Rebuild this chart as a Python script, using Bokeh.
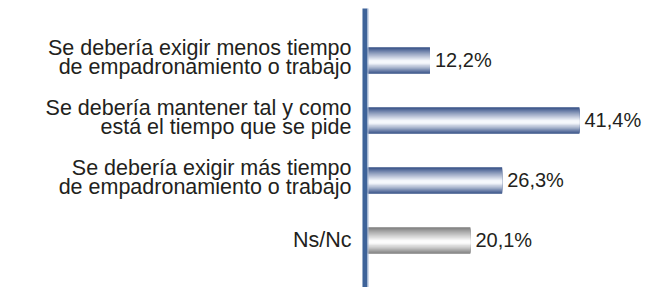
from bokeh.plotting import figure
from bokeh.models import ColumnDataSource, Range1d, BoxAnnotation
from bokeh.core.properties import value
from bokeh.embed import file_html
from bokeh.resources import INLINE

# ---- data ----
categories = [
    "Se debería exigir menos tiempo\nde empadronamiento o trabajo",
    "Se debería mantener tal y como\nestá el tiempo que se pide",
    "Se debería exigir más tiempo\nde empadronamiento o trabajo",
    "Ns/Nc",
]
values = [12.2, 41.4, 26.3, 20.1]
value_labels = ["12,2%", "41,4%", "26,3%", "20,1%"]
bar_kind = ["blue", "blue", "blue", "gray"]

# ---- styling ----
W, H = 647, 287
FONT = value("Liberation Sans")
TXT = "#231f20"
AXIS_BLUE = "#3e6399"
DARK = {"blue": (54, 80, 134), "gray": (126, 126, 126)}
LIGHT = {"blue": (246, 248, 252), "gray": (252, 252, 252)}

p = figure(width=W, height=H, output_backend="svg", toolbar_location=None,
           x_range=Range1d(-71.68, 54.69), y_range=Range1d(3.783, -1.0),
           min_border=0, min_border_left=0, min_border_right=0,
           min_border_top=0, min_border_bottom=0)
p.axis.visible = False
p.xgrid.visible = False
p.ygrid.visible = False
p.outline_line_color = None
p.background_fill_color = "white"
p.border_fill_color = "white"

ys = list(range(len(categories)))
BAR_H = 0.44
PEAK = 0.56  # fraction from top where the highlight sits
N = 14

def lerp(a, b, f):
    return "#%02x%02x%02x" % tuple(int(round(a[i] + (b[i] - a[i]) * f)) for i in range(3))

for k in range(N):
    s = k / (N - 1)
    shrink = 0.88 * s
    f = s ** 0.9
    src = dict(y=[], h=[], right=[], color=[])
    for y, v, kind in zip(ys, values, bar_kind):
        top = y - BAR_H / 2
        bot = y + BAR_H / 2
        peak = top + PEAK * BAR_H
        t2 = top + (peak - top) * shrink
        b2 = bot - (bot - peak) * shrink
        src["y"].append((t2 + b2) / 2)
        src["h"].append(b2 - t2)
        src["right"].append(v)
        src["color"].append(lerp(DARK[kind], LIGHT[kind], f))
    p.hbar(y="y", height="h", left=0, right="right", fill_color="color",
           line_color=None, source=ColumnDataSource(src))

# vertical axis line (starts a little below the top)
p.add_layout(BoxAnnotation(left=-0.98, right=0, top=-0.867, fill_color=AXIS_BLUE,
                           fill_alpha=1, line_color=None))
p.add_layout(BoxAnnotation(left=0, right=0.2, top=-0.867, fill_color="#a9bad6",
                           fill_alpha=1, line_color=None))

src = ColumnDataSource(dict(y=ys, v=values, lab=value_labels, cat=categories,
                            yoff=[-3 if "\n" in c else -1 for c in categories]))
p.text(x="v", y="y", text="lab", source=src, x_offset=5, y_offset=-1,
       text_font=FONT, text_font_size="20px", text_color=TXT,
       text_align="left", text_baseline="middle")
p.text(x=0, y="y", text="cat", source=src, x_offset=-16, y_offset="yoff",
       text_font=FONT, text_font_size="21.5px", text_color=TXT,
       text_align="right", text_baseline="middle", text_line_height=0.82)

open("out.html", "w").write(file_html(p, INLINE))
